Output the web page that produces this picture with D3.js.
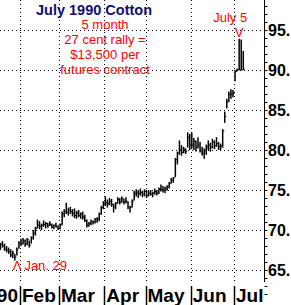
<!DOCTYPE html>
<html>
<head>
<meta charset="utf-8">
<script src="https://cdn.jsdelivr.net/npm/d3@7"></script>
<style>
  body { margin: 0; background: #fff; }
  svg { display: block; font-family: "Liberation Sans", Arial, sans-serif; }
</style>
</head>
<body>
<div id="chart"></div>
<script>
// trading days run from Jan 15 to Jul 9 1990, exchange holidays skipped
const firstDay = new Date(1990, 0, 15);
const lastDay = new Date(1990, 6, 9);
const holidays = ["1990-02-19", "1990-04-13", "1990-05-28", "1990-07-04"];

// daily highs / lows / closes (cents per lb)
const highs = [
  68.6, 68.8, 68.5, 68.4, 68.6, 68.3, 68.0, 67.8, 67.6, 67.4, 67.0, 67.8, 68.6,
  68.9, 69.0, 68.8, 69.0, 68.7, 69.2, 70.0, 70.4, 71.3, 71.1, 70.8, 71.2, 71.0, 70.9, 71.1, 70.8, 70.7, 70.9, 70.6,
  70.8, 72.3, 72.6, 73.4, 72.8, 72.9, 72.6, 72.7, 72.4, 72.5, 72.2, 72.3, 71.9, 71.3, 71.0, 71.3, 71.2, 71.5, 71.6, 72.2, 73.0, 73.6,
  74.2, 73.8, 74.0, 73.9, 73.3, 73.5, 74.1, 74.0, 74.2, 73.9, 74.1, 73.6, 73.0, 73.8, 74.9, 75.1, 75.0, 75.2, 74.9, 75.1,
  75.0, 74.9, 75.0, 74.8, 75.2, 75.0, 75.3, 75.7, 75.5, 75.4, 75.6, 76.0, 76.5, 76.6, 79.0, 79.8, 81.2, 80.6, 80.4, 80.2, 82.2, 82.0,
  82.2, 81.5, 81.2, 81.6, 81.0, 80.4, 80.2, 80.7, 81.2, 80.9, 81.4, 81.2, 81.6, 81.0, 80.8, 82.6, 84.8, 86.4, 87.3, 87.6, 87.5,
  90.0, 90.2, 93.9, 93.8, 92.4
];
const lows = [
  67.8, 67.9, 67.6, 67.5, 67.8, 67.4, 67.2, 67.0, 66.6, 66.5, 66.2, 66.8, 67.7,
  68.0, 68.2, 67.9, 68.1, 67.8, 68.3, 68.8, 69.3, 70.2, 70.1, 70.0, 70.4, 70.2, 70.3, 70.5, 70.2, 70.1, 70.3, 70.0,
  70.1, 70.6, 71.6, 72.0, 71.8, 72.0, 71.7, 71.5, 71.4, 71.6, 71.4, 71.3, 71.0, 70.3, 70.4, 70.6, 70.7, 70.8, 70.9, 71.1, 71.9, 72.6,
  73.0, 72.8, 73.1, 72.9, 72.2, 72.6, 73.3, 73.2, 73.4, 73.2, 73.3, 72.6, 72.2, 72.8, 73.7, 74.2, 74.0, 74.3, 74.1, 74.2,
  74.0, 74.2, 74.3, 74.1, 74.4, 74.3, 74.5, 74.8, 74.7, 74.6, 74.9, 75.2, 75.8, 75.9, 76.6, 78.2, 79.4, 79.3, 79.6, 79.5, 80.3, 80.0,
  80.2, 80.0, 79.8, 80.2, 79.7, 79.3, 78.9, 79.4, 80.0, 79.8, 80.2, 80.1, 80.4, 80.0, 80.0, 80.3, 83.4, 85.2, 86.0, 86.4, 86.6,
  88.6, 89.8, 90.0, 90.0, 90.0
];
const closes = [
  68.2, 68.1, 67.9, 68.2, 68.0, 67.6, 67.5, 67.3, 66.9, 67.1, 66.6, 67.6, 68.4,
  68.3, 68.7, 68.2, 68.8, 68.1, 69.0, 69.6, 70.2, 70.6, 70.5, 70.6, 70.7, 70.8, 70.5, 70.7, 70.4, 70.6, 70.4, 70.2,
  70.6, 72.0, 72.3, 72.2, 72.5, 72.3, 72.1, 71.8, 72.1, 71.8, 72.0, 71.6, 71.2, 70.6, 70.8, 71.0, 71.0, 71.3, 71.4, 72.0, 72.8, 73.4,
  73.4, 73.3, 73.6, 73.2, 72.9, 73.3, 73.8, 73.5, 73.9, 73.5, 73.6, 72.9, 72.8, 73.6, 74.6, 74.6, 74.6, 74.7, 74.5, 74.8,
  74.3, 74.6, 74.5, 74.6, 74.8, 74.6, 75.1, 75.1, 75.0, 75.2, 75.4, 75.8, 76.2, 76.5, 78.8, 79.6, 80.0, 79.7, 80.1, 79.8, 81.6, 80.6,
  80.6, 81.1, 80.4, 80.6, 79.9, 79.6, 79.9, 80.4, 80.6, 80.3, 81.0, 80.5, 80.8, 80.4, 80.5, 82.4, 84.2, 86.0, 86.9, 87.0, 87.1,
  89.8, 90.0, 90.0, 90.0, 90.1
];

const monthNames = ["Jan 90", "Feb", "Mar", "Apr", "May", "Jun", "Jul"];
const priceTicks = [65, 70, 75, 80, 85, 90, 95];
const noteLines = ["5 month", "27 cent rally =", "$13,500 per", "futures contract"];

const width = 291;
const height = 305;
const plotW = 264;
const plotH = 283;

const fmt = d3.timeFormat("%Y-%m-%d");
const days = d3.timeDays(firstDay, d3.timeDay.offset(lastDay, 1))
    .filter(d => d.getDay() !== 0 && d.getDay() !== 6 && !holidays.includes(fmt(d)));

const bars = days.map((d, i) => ({ date: d, high: highs[i], low: lows[i], close: closes[i] }));

// first trading day of each month
const monthStarts = days.filter((d, i) => i === 0 || d.getMonth() !== days[i - 1].getMonth());

const x = d3.scaleBand()
    .domain(days)
    .range([-6.8, 244.3]);

const y = d3.scaleLinear()
    .domain([65, 95])
    .range([270, 30]);

const svg = d3.select("#chart")
    .append("svg")
    .attr("width", width)
    .attr("height", height);

const plot = svg.append("g");

// dotted grid
plot.selectAll(".hgrid")
    .data(priceTicks)
    .enter()
    .append("line")
    .attr("x1", 0)
    .attr("x2", plotW)
    .attr("y1", d => Math.round(y(d)) + 0.5)
    .attr("y2", d => Math.round(y(d)) + 0.5)
    .attr("stroke", "#000")
    .attr("stroke-dasharray", "1,3");

plot.selectAll(".vgrid")
    .data(monthStarts.slice(1))
    .enter()
    .append("line")
    .attr("x1", d => Math.round(x(d)) + 0.5)
    .attr("x2", d => Math.round(x(d)) + 0.5)
    .attr("y1", 0)
    .attr("y2", plotH)
    .attr("stroke", "#000")
    .attr("stroke-dasharray", "1,3");

// price bars
const barG = plot.append("g");
const mid = d => x(d.date) + x.bandwidth() / 2;

barG.selectAll(".hl")
    .data(bars)
    .enter()
    .append("line")
    .attr("x1", mid)
    .attr("x2", mid)
    .attr("y1", d => y(d.high))
    .attr("y2", d => y(d.low))
    .attr("stroke", "#000")
    .attr("stroke-width", 1.5);

barG.selectAll(".cl")
    .data(bars)
    .enter()
    .append("line")
    .attr("x1", mid)
    .attr("x2", d => mid(d) + 1.6)
    .attr("y1", d => y(d.close))
    .attr("y2", d => y(d.close))
    .attr("stroke", "#000");

// right price axis
const yAxis = plot.append("g")
    .attr("transform", `translate(${plotW + 0.5}, 0)`)
    .call(d3.axisRight(y).tickValues(d3.range(62, 99)).tickSize(3).tickFormat(""));

yAxis.select(".domain").attr("d", `M0,0V${plotH - 1}`);

plot.selectAll(".ylab")
    .data(priceTicks)
    .enter()
    .append("text")
    .attr("x", plotW + 4)
    .attr("y", d => y(d))
    .attr("dy", "0.36em")
    .style("font-size", "16px")
    .style("font-weight", "bold")
    .text(d => `${d}.`);

// bottom month strip
plot.selectAll(".msep")
    .data(monthStarts.slice(1))
    .enter()
    .append("line")
    .attr("x1", d => Math.round(x(d)) + 0.5)
    .attr("x2", d => Math.round(x(d)) + 0.5)
    .attr("y1", plotH + 3)
    .attr("y2", height)
    .attr("stroke", "#000")
    .attr("stroke-width", 1.5);

plot.selectAll(".mlab")
    .data(monthStarts)
    .enter()
    .append("text")
    .attr("x", (d, i) => i === 0 ? x(monthStarts[1]) - 2 : x(d) + 2)
    .attr("y", height - 3)
    .style("font-size", "19px")
    .style("font-weight", "bold")
    .attr("text-anchor", (d, i) => i === 0 ? "end" : "start")
    .text((d, i) => monthNames[i]);

// annotations
svg.append("text")
    .attr("x", 94)
    .attr("y", 15)
    .attr("text-anchor", "middle")
    .attr("fill", "#101070")
    .style("font-size", "14.5px")
    .style("font-weight", "bold")
    .text("July 1990 Cotton");

svg.selectAll(".note")
    .data(noteLines)
    .enter()
    .append("text")
    .attr("x", 105)
    .attr("y", (d, i) => 29 + i * 15)
    .attr("text-anchor", "middle")
    .attr("fill", "#ff0000")
    .style("font-size", "13px")
    .text(d => d);

const jul5 = bars.find(d => fmt(d.date) === "1990-07-05");
svg.append("text")
    .attr("x", mid(jul5) - 9)
    .attr("y", 22)
    .attr("text-anchor", "middle")
    .attr("fill", "#ff0000")
    .style("font-size", "13px")
    .text("July 5");
svg.append("text")
    .attr("x", mid(jul5))
    .attr("y", 37)
    .attr("text-anchor", "middle")
    .attr("fill", "#ff0000")
    .style("font-size", "13px")
    .text("V");

const jan29 = bars.find(d => fmt(d.date) === "1990-01-29");
svg.append("text")
    .attr("x", mid(jan29) - 2)
    .attr("y", 270)
    .attr("fill", "#ff0000")
    .style("font-size", "13px")
    .text("\u039B Jan. 29");
</script>
</body>
</html>
